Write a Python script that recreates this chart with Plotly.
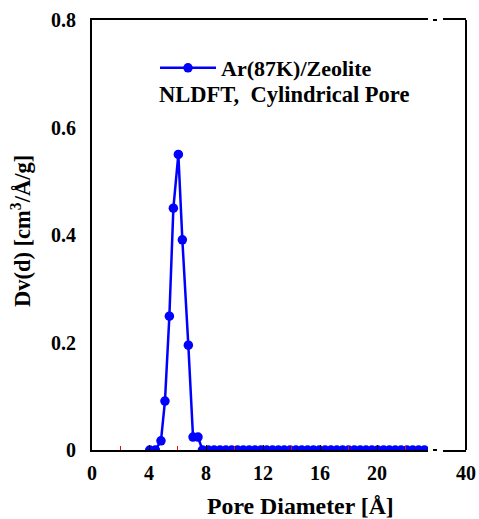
import plotly.graph_objects as go

# ---- data ----
pore_diameter = [4.05, 4.45, 4.84, 5.12, 5.43, 5.71, 6.06, 6.34, 6.76, 7.09, 7.44,
                 7.75, 8.16, 8.57, 8.98, 9.39, 9.80, 10.21, 10.62, 11.03, 11.44,
                 11.85, 12.26, 12.67, 13.08, 13.49, 13.90, 14.31, 14.72, 15.13,
                 15.54, 15.95, 16.36, 16.77, 17.18, 17.59, 18.00, 18.41, 18.82,
                 19.23, 19.64, 20.05, 20.46, 20.87, 21.28, 21.69, 22.10, 22.51,
                 22.92, 23.33]
dv = [0.0, 0.0, 0.017, 0.091, 0.249, 0.450, 0.550, 0.391, 0.195, 0.024, 0.024,
      0.0, 0.0, 0.0, 0.0, 0.0, 0.0, 0.0, 0.0, 0.0, 0.0,
      0.0, 0.0, 0.0, 0.0, 0.0, 0.0, 0.0, 0.0, 0.0,
      0.0, 0.0, 0.0, 0.0, 0.0, 0.0, 0.0, 0.0, 0.0,
      0.0, 0.0, 0.0, 0.0, 0.0, 0.0, 0.0, 0.0, 0.0,
      0.0, 0.0]
x_ticks_main = [0, 4, 8, 12, 16, 20]
x_ticks_tail = [40]
y_ticks = [0, 0.2, 0.4, 0.6, 0.8]
y_tick_text = ["0", "0.2", "0.4", "0.6", "0.8"]
series_name = "Ar(87K)/Zeolite"
subtitle = "NLDFT,  Cylindrical Pore"

# ---- layout geometry (pixels) ----
W, H = 479, 519
L, R, T, B = 92, 466, 20, 450
pw, ph = R - L, B - T
px = lambda x: (x - L) / pw
py = lambda y: (B - y) / ph

FONT = "Liberation Serif, Times New Roman, Times, serif"
tickfont = dict(family=FONT, size=20, color="black", weight="bold")

fig = go.Figure()
fig.add_trace(go.Scatter(
    x=pore_diameter, y=dv, mode="lines+markers", name=series_name,
    line=dict(color="#0000ff", width=2.5),
    marker=dict(color="#0000ff", size=9.5),
    xaxis="x", yaxis="y",
))
# empty trace so the broken tail segment of the x axis (ending at 40) is drawn
fig.add_trace(go.Scatter(x=[None], y=[None], xaxis="x2", yaxis="y",
                         showlegend=False, hoverinfo="skip"))

main_end = px(428)
tail_start = px(443)
scale = 14.25  # px per unit
fig.update_layout(
    width=W, height=H,
    margin=dict(l=L, r=W - R, t=T, b=H - B, pad=0, autoexpand=False),
    paper_bgcolor="white", plot_bgcolor="white",
    showlegend=True,
    legend=dict(x=px(155), y=py(68), xanchor="left", yanchor="middle",
                bgcolor="rgba(0,0,0,0)", borderwidth=0,
                font=dict(family=FONT, size=22, color="black", weight="bold"),
                itemwidth=56),
    xaxis=dict(domain=[0, main_end], range=[0, (428 - L) / scale],
               tickvals=x_ticks_main, ticktext=[str(v) for v in x_ticks_main],
               ticks="inside", ticklen=5, tickwidth=1, tickcolor="black",
               minor=dict(dtick=2, tick0=0, ticks="inside", ticklen=4, tickcolor="red", tickwidth=1),
               showline=True, linecolor="black", linewidth=2, mirror=True,
               showgrid=False, zeroline=False, tickfont=tickfont,
               anchor="y", ticklabelstandoff=4, automargin=False),
    xaxis2=dict(domain=[tail_start, 1], range=[40 - (466 - 443) / scale, 40],
                tickvals=x_ticks_tail, ticktext=[str(v) for v in x_ticks_tail],
                ticks="", showline=True, linecolor="black", linewidth=2, mirror=True,
                showgrid=False, zeroline=False, tickfont=tickfont,
                anchor="y", ticklabelstandoff=4, automargin=False,
                ticklabeloverflow="allow"),
    yaxis=dict(domain=[0, 1], range=[0, 0.8], tickvals=y_ticks, ticktext=y_tick_text,
               ticks="", showline=True, linecolor="black", linewidth=2,
               showgrid=False, zeroline=False, tickfont=tickfont,
               anchor="x", ticklabelstandoff=10, automargin=False),
)

# right border and break marks
shapes = [
    dict(type="line", xref="paper", yref="paper", x0=1, x1=1, y0=0, y1=1,
         line=dict(color="black", width=2)),
    dict(type="line", xref="paper", yref="paper", x0=px(433), x1=px(437), y0=1, y1=1,
         line=dict(color="black", width=2)),
    dict(type="line", xref="paper", yref="paper", x0=px(433), x1=px(437), y0=0, y1=0,
         line=dict(color="black", width=2)),
]
fig.update_layout(shapes=shapes)

fig.add_annotation(text=subtitle, xref="paper", yref="paper", x=px(157), y=py(95),
                   xanchor="left", yanchor="middle", showarrow=False,
                   font=dict(family=FONT, size=22.5, color="black", weight="bold"))
fig.add_annotation(text="Pore Diameter [Å]", xref="paper", yref="paper",
                   x=px(300), y=py(506), xanchor="center", yanchor="middle", showarrow=False,
                   font=dict(family=FONT, size=23.8, color="black", weight="bold"))
fig.add_annotation(text="Dv(d) [cm<sup>3</sup>/Å/g]", xref="paper", yref="paper",
                   x=px(21), y=py(231), xanchor="center", yanchor="middle", showarrow=False,
                   textangle=-90,
                   font=dict(family=FONT, size=22.5, color="black", weight="bold"))

fig.write_html("out.html", config={"displayModeBar": False},
               post_script="document.body.style.margin='0';document.body.style.overflow='hidden';")
